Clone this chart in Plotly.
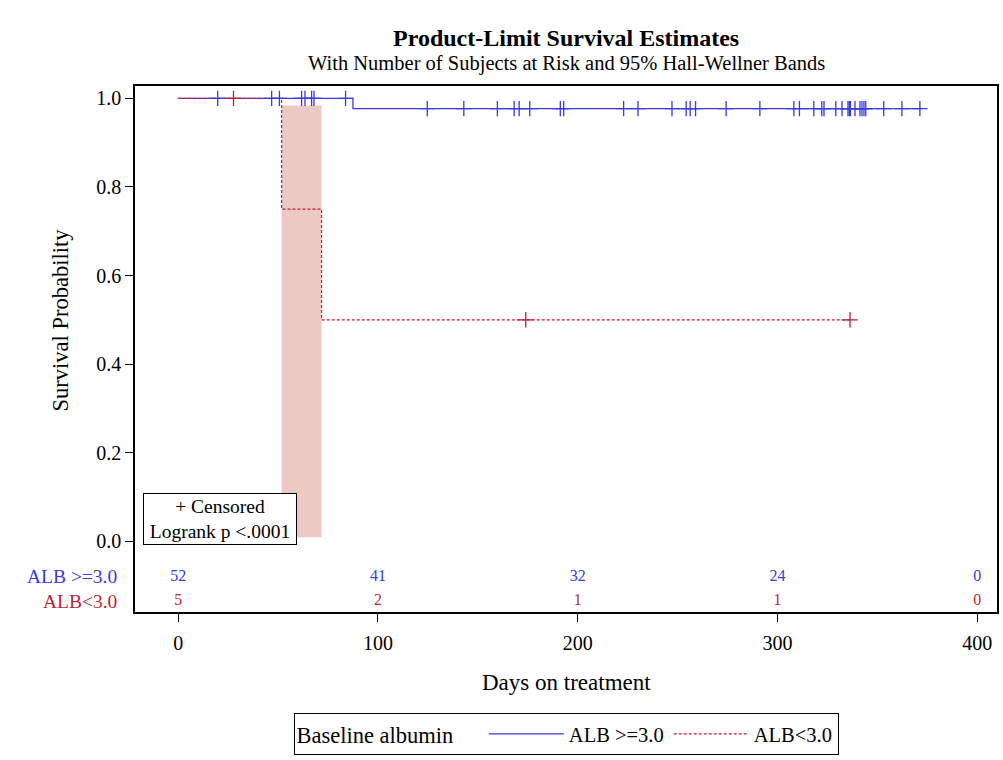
import plotly.graph_objects as go

# Kaplan-Meier step points per group (days, survival probability)
alb_hi_time = [0, 87.5, 372]
alb_hi_surv = [1.0, 0.977, 0.977]
alb_lo_time = [0, 51.8, 71.8, 336.3]
alb_lo_surv = [1.0, 0.75, 0.5, 0.5]

# Censoring times per group
alb_hi_cens = [19.8, 46.8, 50.7, 61.8, 63.5, 66.8, 68.0, 83.8,
               124.7, 143.0, 159.8, 168.2, 170.7, 176.0, 191.3, 193.0,
               223.0, 230.2, 247.2, 254.3, 256.3, 259.0, 274.3, 291.2,
               308.2, 311.0, 318.2, 322.2, 323.3, 329.2, 332.3, 335.3,
               336.0, 336.5, 338.8, 341.3, 342.3, 343.3, 344.2, 353.2,
               362.3, 371.3]
alb_lo_cens = [27.7, 174.0, 336.3]

# 95% Hall-Wellner band for ALB<3.0
band_time = [51.8, 71.8]
band_upper = [0.984, 0.984]
band_lower = [0.009, 0.009]

# Number at risk table
risk_days = [0, 100, 200, 300, 400]
risk_hi = [52, 41, 32, 24, 0]
risk_lo = [5, 2, 1, 1, 0]

x_ticks = [0, 100, 200, 300, 400]
y_ticks = [0.0, 0.2, 0.4, 0.6, 0.8, 1.0]

BLUE = "rgb(58,58,222)"
RED = "rgb(192,30,52)"
BAND = "rgba(228,172,164,0.65)"
FONT = "Liberation Serif"
ROW_HI = -0.080
ROW_LO = -0.136


def step_value(times, surv, t):
    """Survival value of a right-continuous step function at time t."""
    val = surv[0]
    for ti, si in zip(times, surv):
        if ti <= t:
            val = si
    return val


fig = go.Figure()

# confidence band
fig.add_trace(go.Scatter(x=band_time, y=band_lower, mode="lines",
                         line=dict(width=0, shape="hv"), showlegend=False,
                         hoverinfo="skip"))
fig.add_trace(go.Scatter(x=band_time, y=band_upper, mode="lines",
                         line=dict(width=0, shape="hv"), fill="tonexty",
                         fillcolor=BAND, showlegend=False, hoverinfo="skip"))

# survival curves
fig.add_trace(go.Scatter(x=alb_hi_time, y=alb_hi_surv, mode="lines",
                         line=dict(color=BLUE, width=1.3, shape="hv"),
                         name="ALB >=3.0"))
fig.add_trace(go.Scatter(x=alb_lo_time, y=alb_lo_surv, mode="lines",
                         line=dict(color=RED, width=1.2, shape="hv",
                                   dash="3px,2px"),
                         name="ALB<3.0"))

# censor marks
fig.add_trace(go.Scatter(
    x=alb_hi_cens,
    y=[step_value(alb_hi_time, alb_hi_surv, t) for t in alb_hi_cens],
    mode="markers", showlegend=False,
    marker=dict(symbol="cross-thin", size=11,
                line=dict(color=BLUE, width=1.3))))
fig.add_trace(go.Scatter(
    x=alb_lo_cens,
    y=[step_value(alb_lo_time, alb_lo_surv, t) for t in alb_lo_cens],
    mode="markers", showlegend=False,
    marker=dict(symbol="cross-thin", size=11,
                line=dict(color=RED, width=1.3))))

# number at risk rows
fig.add_trace(go.Scatter(x=risk_days, y=[ROW_HI] * len(risk_days),
                         text=[str(v) for v in risk_hi], mode="text",
                         textfont=dict(family=FONT, size=16, color=BLUE),
                         showlegend=False, hoverinfo="skip"))
fig.add_trace(go.Scatter(x=risk_days, y=[ROW_LO] * len(risk_days),
                         text=[str(v) for v in risk_lo], mode="text",
                         textfont=dict(family=FONT, size=16, color=RED),
                         showlegend=False, hoverinfo="skip"))

annotations = [
    dict(text="<b>Product-Limit Survival Estimates</b>", xref="paper",
         yref="paper", x=0.5, y=1.092, showarrow=False,
         font=dict(family=FONT, size=24, color="black"),
         xanchor="center", yanchor="middle"),
    dict(text="With Number of Subjects at Risk and 95% Hall-Wellner Bands",
         xref="paper", yref="paper", x=0.5, y=1.0427, showarrow=False,
         font=dict(family=FONT, size=20.5, color="black"),
         xanchor="center", yanchor="middle"),
    dict(text="Survival Probability", xref="paper", yref="y",
         x=-0.0863, y=0.5, textangle=-90, showarrow=False,
         font=dict(family=FONT, size=22.5, color="black"),
         xanchor="center", yanchor="middle"),
    dict(text="Days on treatment", xref="paper", yref="paper",
         x=0.5, y=-0.1346, showarrow=False,
         font=dict(family=FONT, size=23, color="black"),
         xanchor="center", yanchor="middle"),
    dict(text="ALB >=3.0", xref="paper", yref="y", x=-0.019, y=ROW_HI,
         showarrow=False, xanchor="right", yanchor="middle",
         font=dict(family=FONT, size=19.5, color=BLUE)),
    dict(text="ALB<3.0", xref="paper", yref="y", x=-0.019, y=ROW_LO,
         showarrow=False, xanchor="right", yanchor="middle",
         font=dict(family=FONT, size=19.5, color=RED)),
    dict(text="+ Censored<br>Logrank p <.0001", xref="x", yref="y",
         x=-17.4, y=-0.009, xanchor="left", yanchor="bottom",
         showarrow=False, align="center", width=150, height=48,
         bordercolor="black", borderwidth=1, borderpad=1,
         bgcolor="white",
         font=dict(family=FONT, size=19.5, color="black")),
]

fig.update_layout(
    width=1003, height=760,
    margin=dict(l=134.5, r=5.5, t=85.5, b=147),
    paper_bgcolor="white", plot_bgcolor="white",
    font=dict(family=FONT, color="black"),
    annotations=annotations,
    showlegend=True,
    legend=dict(orientation="h", x=0.5, xanchor="center", y=-0.19,
                yanchor="top", bordercolor="black", borderwidth=1,
                bgcolor="white", itemwidth=75, traceorder="normal",
                title=dict(text="Baseline albumin    ",
                           font=dict(family=FONT, size=22.5)),
                font=dict(family=FONT, size=20.5)),
    xaxis=dict(range=[-21.6, 409.9], tickvals=x_ticks,
               ticktext=[str(v) for v in x_ticks],
               showgrid=False, zeroline=False, showline=True,
               linecolor="black", linewidth=1.5, mirror=True,
               ticks="outside", ticklen=8, tickwidth=1.2, tickcolor="black",
               tickfont=dict(family=FONT, size=20), ticklabelstandoff=4),
    yaxis=dict(range=[-0.16, 1.028], tickvals=y_ticks,
               ticktext=[f"{v:.1f}" for v in y_ticks],
               showgrid=False, zeroline=False, showline=True,
               linecolor="black", linewidth=1.5, mirror=True,
               ticks="outside", ticklen=8, tickwidth=1.2, tickcolor="black",
               tickfont=dict(family=FONT, size=20)),
)

fig.write_html("out.html")
